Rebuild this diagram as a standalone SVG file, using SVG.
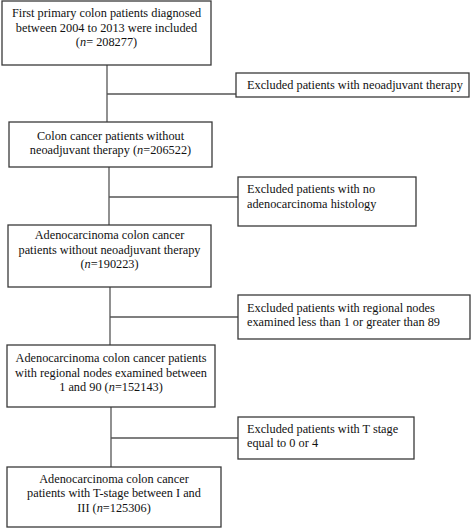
<svg xmlns="http://www.w3.org/2000/svg" width="472" height="529" viewBox="0 0 472 529">
<style>
.box{fill:#fff;stroke:#3a3a3a;stroke-width:1.3}
.t{font-family:"Liberation Serif","Times New Roman",serif;font-size:12.3px;fill:#111}
.c{text-anchor:middle}
.conn line{stroke:#555;stroke-width:1.3}
</style>
<rect width="472" height="529" fill="#fff"/>
<g id="connectors" class="conn">
<line x1="107" y1="65" x2="107" y2="122"/>
<line x1="107" y1="94" x2="236" y2="94"/>
<line x1="109" y1="167" x2="109" y2="225"/>
<line x1="109" y1="197" x2="238" y2="197"/>
<line x1="110" y1="287" x2="110" y2="345"/>
<line x1="110" y1="317" x2="238" y2="317"/>
<line x1="111" y1="407" x2="111" y2="467"/>
<line x1="111" y1="438" x2="238" y2="438"/>
</g>
<g id="n1">
<rect class="box" x="2" y="1" width="209" height="64"/>
<text class="t c" x="106.5" y="17">First primary colon patients diagnosed</text>
<text class="t c" x="106.5" y="31.5">between 2004 to 2013 were included</text>
<text class="t c" x="106.5" y="46">(<tspan font-style="italic">n</tspan>= 208277)</text>
</g>
<g id="e1">
<rect class="box" x="236" y="73" width="233" height="24"/>
<text class="t" x="247" y="89">Excluded patients with neoadjuvant therapy</text>
</g>
<g id="n2">
<rect class="box" x="9" y="122" width="203" height="45"/>
<text class="t c" x="110.5" y="139.5">Colon cancer patients without</text>
<text class="t c" x="110.5" y="154">neoadjuvant therapy (<tspan font-style="italic">n</tspan>=206522)</text>
</g>
<g id="e2">
<rect class="box" x="238" y="177" width="178" height="49"/>
<text class="t" x="247" y="193">Excluded patients with no</text>
<text class="t" x="247" y="207.5">adenocarcinoma histology</text>
</g>
<g id="n3">
<rect class="box" x="8" y="225" width="203" height="62"/>
<text class="t c" x="109.5" y="239">Adenocarcinoma colon cancer</text>
<text class="t c" x="109.5" y="253.5">patients without neoadjuvant therapy</text>
<text class="t c" x="109.5" y="268">(<tspan font-style="italic">n</tspan>=190223)</text>
</g>
<g id="e3">
<rect class="box" x="238" y="295" width="232" height="44"/>
<text class="t" x="247" y="311.5">Excluded patients with regional nodes</text>
<text class="t" x="247" y="326">examined less than 1 or greater than 89</text>
</g>
<g id="n4">
<rect class="box" x="7" y="345" width="208" height="62"/>
<text class="t c" x="111" y="362">Adenocarcinoma colon cancer patients</text>
<text class="t c" x="111" y="376.5">with regional nodes examined between</text>
<text class="t c" x="111" y="391">1 and 90 (<tspan font-style="italic">n</tspan>=152143)</text>
</g>
<g id="e4">
<rect class="box" x="238" y="417" width="176" height="42"/>
<text class="t" x="247" y="432.5">Excluded patients with T stage</text>
<text class="t" x="247" y="447">equal to 0 or 4</text>
</g>
<g id="n5">
<rect class="box" x="7" y="467" width="214" height="60"/>
<text class="t c" x="114" y="482.5">Adenocarcinoma colon cancer</text>
<text class="t c" x="114" y="497">patients with T-stage between I and</text>
<text class="t c" x="114" y="511.5">III (<tspan font-style="italic">n</tspan>=125306)</text>
</g>
</svg>
